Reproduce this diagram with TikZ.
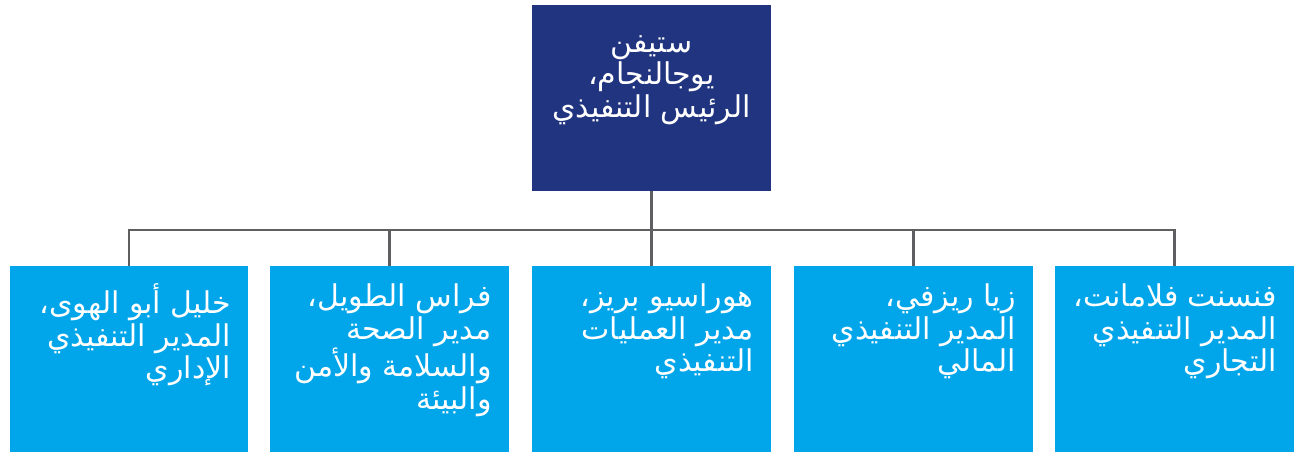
\documentclass[tikz,border=0pt]{standalone}
\usepackage{fontspec}
\TeXXeTstate=1
\newfontfamily\arabicfont[Script=Arabic]{DejaVu Sans}
\definecolor{navy}{HTML}{213480}
\definecolor{sky}{HTML}{00A5EA}
\definecolor{linegray}{HTML}{5F5F62}
\tikzset{
  box/.style={rectangle, inner sep=0pt, outer sep=0pt, minimum width=179pt, minimum height=139.5pt},
  topbox/.style={box, fill=navy},
  childbox/.style={box, fill=sky},
  lbl/.style={inner sep=0pt, text=white, font=\arabicfont\fontsize{22.5}{24.5}\selectfont},
  conn/.style={draw=linegray, line width=1.6pt}
}
\begin{document}
\begin{tikzpicture}[x=0.75pt,y=-0.75pt]
\useasboundingbox (0,0) rectangle (1295,453);
\node[topbox] (top) at (651.5,98) {};
\node[childbox] (c1) at (129,359) {};
\node[childbox] (c2) at (389.5,359) {};
\node[childbox] (c3) at (651.5,359) {};
\node[childbox] (c4) at (913.5,359) {};
\node[childbox] (c5) at (1174.5,359) {};
\coordinate (j) at (651.5,230);
\draw[conn] (top.south) -- (j);
\draw[conn] (c1.north) -- (c1.north |- j) -- (c5.north |- j) -- (c5.north);
\draw[conn] (c2.north) -- (c2.north |- j);
\draw[conn] (c3.north) -- (c3.north |- j);
\draw[conn] (c4.north) -- (c4.north |- j);
\node[lbl, align=center, anchor=north] (tt) at ([yshift=-22.5pt]top.north) {\beginR ستيفن\endR\\\beginR يوجالنجام،\endR\\\beginR الرئيس التنفيذي\endR};
\node[lbl, align=right, anchor=north east] (t1) at ([xshift=-12.75pt,yshift=-13pt]c1.north east) {\beginR خليل أبو الهوى،\endR\\\beginR المدير التنفيذي\endR\\\beginR الإداري\endR};
\node[lbl, align=right, anchor=north east] (t2) at ([xshift=-12.75pt,yshift=-13pt]c2.north east) {\beginR فراس الطويل،\endR\\\beginR مدير الصحة\endR\\\beginR والسلامة والأمن\endR\\\beginR والبيئة\endR};
\node[lbl, align=right, anchor=north east] (t3) at ([xshift=-12.75pt,yshift=-13pt]c3.north east) {\beginR هوراسيو بريز،\endR\\\beginR مدير العمليات\endR\\\beginR التنفيذي\endR};
\node[lbl, align=right, anchor=north east] (t4) at ([xshift=-12.75pt,yshift=-13pt]c4.north east) {\beginR زيا ريزفي،\endR\\\beginR المدير التنفيذي\endR\\\beginR المالي\endR};
\node[lbl, align=right, anchor=north east] (t5) at ([xshift=-12.75pt,yshift=-13pt]c5.north east) {\beginR فنسنت فلامانت،\endR\\\beginR المدير التنفيذي\endR\\\beginR التجاري\endR};
\end{tikzpicture}
\end{document}
